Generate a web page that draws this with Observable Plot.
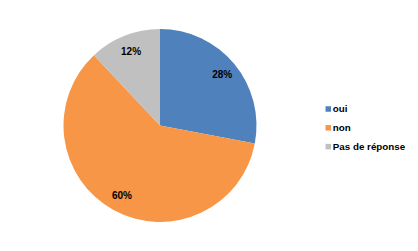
<!DOCTYPE html>
<html><head><meta charset="utf-8">
<script src="https://cdn.jsdelivr.net/npm/d3@7"></script>
<script src="https://cdn.jsdelivr.net/npm/@observablehq/plot@0.6"></script>
<style>body{margin:0;background:#fff}</style>
</head><body><div id="chart"></div>
<script>
const categories = ["oui", "non", "Pas de réponse"];
const values = [28, 60, 12];
const labels = ["28%", "60%", "12%"];
const colors = ["#4F81BD", "#F79646", "#C0C0C0"];

// layout (pixels)
const cx = 160, cy = 125.5, R = 96.5;
const legendPx = 327.8, legendPy0 = 108.5, legendStep = 18.8;

const pie = d3.pie().sort(null).value(d => d.value)(
  categories.map((c, i) => ({category: c, value: values[i], label: labels[i]}))
);
const labelR = 0.83;
const labelData = pie.map(p => {
  const a = (p.startAngle + p.endAngle) / 2;
  return {label: p.data.label, x: labelR * Math.sin(a), y: labelR * Math.cos(a)};
});

function wedges(index, scales) {
  const x0 = scales.x(0), y0 = scales.y(0), r = scales.x(1) - scales.x(0);
  const arc = d3.arc().innerRadius(0).outerRadius(r);
  const g = d3.select(document.createElementNS("http://www.w3.org/2000/svg", "g"))
    .attr("transform", `translate(${x0},${y0})`);
  g.selectAll("path").data(pie).join("path")
    .attr("d", arc)
    .attr("fill", d => scales.color ? scales.color(d.data.category) : colors[categories.indexOf(d.data.category)]);
  return g.node();
}

const lx = (legendPx - cx) / R;
const ly = i => (cy - (legendPy0 + legendStep * i)) / R;

const chart = Plot.plot({
  width: 418,
  height: 251,
  margin: 0,
  style: {background: "#fff", fontFamily: "Liberation Sans, Arial, sans-serif"},
  x: {domain: [-1, 1], range: [cx - R, cx + R], axis: null},
  y: {domain: [-1, 1], range: [cy + R, cy - R], axis: null},
  color: {domain: categories, range: colors},
  marks: [
    wedges,
    Plot.text(labelData, {x: "x", y: "y", text: "label", fontSize: 10, fontWeight: "bold", fill: "#000"}),
    Plot.dot(categories, {x: () => lx, y: (d, i) => ly(i), symbol: "square", r: 3.1, fill: d => d}),
    Plot.text(categories, {x: () => lx, y: (d, i) => ly(i), text: d => d, dx: 4.5, textAnchor: "start", fontSize: 9.8, fontWeight: "bold", fill: "#000"})
  ]
});
document.getElementById("chart").append(chart);
</script>
</body></html>
